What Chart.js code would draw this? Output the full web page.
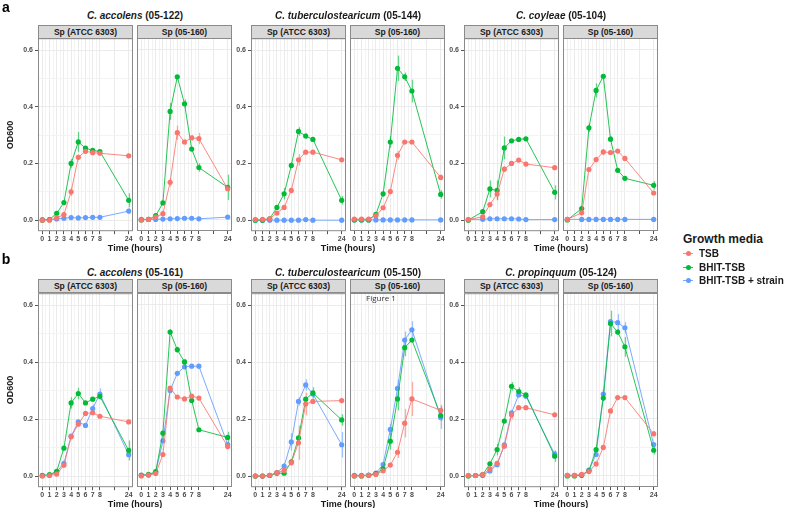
<!DOCTYPE html>
<html>
<head>
<meta charset="utf-8">
<script src="https://cdn.jsdelivr.net/npm/chart.js@4.4.0/dist/chart.umd.min.js"></script>
<style>
  body { margin:0; background:#fff; width:788px; height:508px; overflow:hidden; position:relative;
         font-family:"Liberation Sans", Arial, sans-serif; }
  canvas { position:absolute; }
  .t { position:absolute; white-space:nowrap; transform:translate(-50%,-50%); font-weight:bold; color:#1a1a1a; }
  .strip { position:absolute; box-sizing:border-box; background:#d9d9d9; border:1px solid #8a8a8a;
           font-weight:bold; font-size:8.5px; color:#1a1a1a; text-align:center; }
</style>
</head>
<body>
<script>
// time points (hours) and tick labels
var timeHours = [0, 1, 2, 3, 4, 5, 6, 7, 8, 24];
var xTickLabels = [0, 1, 2, 3, 4, 5, 6, 7, 8, 24];
var yTickLabels = [0, 0.2, 0.4, 0.6];
var seriesNames = ['TSB', 'BHIT-TSB', 'BHIT-TSB + strain'];
var stripNames = ['Sp (ATCC 6303)', 'Sp (05-160)'];
var titlesA = [['C. accolens', '(05-122)'], ['C. tuberculostearicum', '(05-144)'], ['C. coyleae', '(05-104)']];
var titlesB = [['C. accolens', '(05-161)'], ['C. tuberculostearicum', '(05-150)'], ['C. propinquum', '(05-124)']];

// ---- row a ----
// C. accolens (05-122)
var a1_tsb    = [0, 0, 0.008, 0.02, 0.1, 0.222, 0.243, 0.238, 0.236, 0.227];
var a1_bhit   = [0, 0.002, 0.024, 0.062, 0.2, 0.276, 0.254, 0.246, 0.242, 0.07];
var a1_strain = [0.002, 0.002, 0.004, 0.007, 0.009, 0.008, 0.009, 0.01, 0.01, 0.032];
var a1_tsb_err    = [0, 0, 0, 0.005, 0.015, 0.01, 0.005, 0, 0, 0];
var a1_bhit_err   = [0, 0, 0, 0.005, 0.015, 0.035, 0, 0, 0, 0.025];
var a1_strain_err = [0, 0, 0, 0, 0, 0, 0, 0, 0, 0.01];
var a2_tsb    = [0, 0.002, 0.01, 0.022, 0.133, 0.308, 0.275, 0.29, 0.287, 0.11];
var a2_bhit   = [0, 0.002, 0.015, 0.06, 0.383, 0.505, 0.41, 0.25, 0.185, 0.115];
var a2_strain = [0.002, 0.002, 0.002, 0.003, 0.004, 0.005, 0.006, 0.006, 0.004, 0.01];
var a2_tsb_err    = [0, 0, 0, 0, 0.015, 0.025, 0.01, 0.01, 0.02, 0.01];
var a2_bhit_err   = [0, 0, 0, 0, 0.03, 0, 0.015, 0, 0.015, 0.045];
var a2_strain_err = [0, 0, 0, 0, 0, 0, 0, 0, 0, 0];
// C. tuberculostearicum (05-144)
var a3_tsb    = [0.002, 0.003, 0.005, 0.025, 0.045, 0.105, 0.213, 0.24, 0.24, 0.213];
var a3_bhit   = [0, 0, 0.005, 0.045, 0.093, 0.193, 0.313, 0.297, 0.285, 0.07];
var a3_strain = [0, 0, 0, 0, 0, 0, 0, 0.002, 0, 0];
var a3_tsb_err    = [0, 0, 0, 0, 0, 0.01, 0.02, 0, 0, 0];
var a3_bhit_err   = [0, 0, 0, 0, 0.02, 0.01, 0.015, 0.01, 0, 0.015];
var a3_strain_err = [0, 0, 0, 0, 0, 0, 0, 0, 0, 0];
var a4_tsb    = [0.003, 0.003, 0.003, 0.015, 0.043, 0.1, 0.228, 0.275, 0.275, 0.15];
var a4_bhit   = [0, 0, 0, 0.02, 0.092, 0.275, 0.535, 0.505, 0.455, 0.09];
var a4_strain = [0, 0, 0, 0, 0, 0, 0, 0, 0, 0];
var a4_tsb_err    = [0, 0, 0, 0, 0, 0.01, 0.015, 0, 0, 0.01];
var a4_bhit_err   = [0, 0, 0, 0, 0.01, 0.02, 0.045, 0.015, 0.04, 0.015];
var a4_strain_err = [0, 0, 0, 0, 0, 0, 0, 0, 0, 0];
// C. coyleae (05-104), no reading at 1 h
var a5_tsb    = [0.002, null, 0.012, 0.055, 0.092, 0.18, 0.2, 0.212, 0.198, 0.185];
var a5_bhit   = [0, null, 0.03, 0.11, 0.105, 0.255, 0.28, 0.285, 0.287, 0.098];
var a5_strain = [0.002, null, 0.003, 0.005, 0.005, 0.005, 0.005, 0.004, 0.002, 0.002];
var a5_tsb_err    = [0, 0, 0, 0, 0.02, 0.01, 0, 0, 0, 0];
var a5_bhit_err   = [0, 0, 0.005, 0.03, 0.035, 0.04, 0, 0, 0, 0.025];
var a5_strain_err = [0, 0, 0, 0, 0, 0, 0, 0, 0, 0];
var a6_tsb    = [0.002, null, 0.025, 0.178, 0.213, 0.24, 0.238, 0.243, 0.217, 0.095];
var a6_bhit   = [0, null, 0.04, 0.325, 0.457, 0.507, 0.285, 0.175, 0.147, 0.122];
var a6_strain = [0.002, null, 0.002, 0.002, 0.002, 0.002, 0.002, 0.002, 0.002, 0.002];
var a6_tsb_err    = [0, 0, 0, 0, 0.01, 0.01, 0, 0, 0, 0];
var a6_bhit_err   = [0, 0, 0, 0.015, 0.025, 0, 0.01, 0, 0, 0.015];
var a6_strain_err = [0, 0, 0, 0, 0, 0, 0, 0, 0, 0];

// ---- row b ----
// C. accolens (05-161)
var b1_tsb    = [0, 0.002, 0.007, 0.038, 0.138, 0.182, 0.22, 0.222, 0.21, 0.19];
var b1_bhit   = [0.002, 0.005, 0.017, 0.098, 0.257, 0.29, 0.257, 0.27, 0.28, 0.09];
var b1_strain = [0.003, 0.003, 0.015, 0.045, 0.14, 0.19, 0.178, 0.237, 0.288, 0.075];
var b1_tsb_err    = [0, 0, 0, 0, 0, 0, 0, 0, 0, 0];
var b1_bhit_err   = [0, 0, 0, 0, 0.02, 0.02, 0, 0, 0.01, 0.035];
var b1_strain_err = [0, 0, 0, 0, 0, 0, 0, 0.015, 0.02, 0];
var b2_tsb    = [0, 0.003, 0.008, 0.075, 0.308, 0.277, 0.27, 0.28, 0.273, 0.103];
var b2_bhit   = [0.002, 0.005, 0.015, 0.15, 0.505, 0.443, 0.4, 0.265, 0.162, 0.135];
var b2_strain = [0.003, 0.003, 0.012, 0.123, 0.3, 0.36, 0.383, 0.385, 0.385, 0.11];
var b2_tsb_err    = [0, 0, 0, 0, 0, 0, 0, 0, 0, 0];
var b2_bhit_err   = [0, 0, 0, 0.01, 0.01, 0.01, 0.01, 0, 0, 0.02];
var b2_strain_err = [0, 0, 0, 0, 0.01, 0, 0, 0, 0, 0];
// C. tuberculostearicum (05-150)
var b3_tsb    = [0, 0, 0.003, 0.012, 0.02, 0.047, 0.117, 0.253, 0.262, 0.265];
var b3_bhit   = [0, 0, 0.003, 0.01, 0.01, 0.05, 0.134, 0.27, 0.292, 0.197];
var b3_strain = [0, 0, 0.002, 0.012, 0.035, 0.12, 0.262, 0.32, 0.288, 0.11];
var b3_tsb_err    = [0, 0, 0, 0, 0, 0.01, 0.06, 0.04, 0, 0];
var b3_bhit_err   = [0, 0, 0, 0, 0, 0, 0, 0, 0.02, 0.02];
var b3_strain_err = [0, 0, 0, 0, 0.01, 0.03, 0.015, 0.02, 0, 0.045];
var b4_tsb    = [0, 0, 0.002, 0.005, 0.018, 0.038, 0.083, 0.185, 0.27, 0.23];
var b4_bhit   = [0, 0, 0.002, 0.008, 0.025, 0.122, 0.27, 0.45, 0.477, 0.212];
var b4_strain = [0.002, 0.002, 0.003, 0.01, 0.04, 0.163, 0.307, 0.477, 0.513, 0.205];
var b4_tsb_err    = [0, 0, 0, 0, 0, 0, 0.02, 0.05, 0.06, 0.02];
var b4_bhit_err   = [0, 0, 0, 0, 0, 0.03, 0.04, 0.03, 0, 0.02];
var b4_strain_err = [0, 0, 0, 0, 0, 0.02, 0.03, 0.03, 0.03, 0.04];
// C. propinquum (05-124)
var b5_tsb    = [0.002, 0.002, 0.005, 0.025, 0.045, 0.105, 0.215, 0.24, 0.24, 0.215];
var b5_bhit   = [0, 0.002, 0.005, 0.043, 0.093, 0.193, 0.315, 0.297, 0.285, 0.07];
var b5_strain = [0.002, 0.002, 0.002, 0.018, 0.04, 0.11, 0.222, 0.285, 0.28, 0.077];
var b5_tsb_err    = [0, 0, 0, 0, 0, 0, 0.015, 0, 0, 0];
var b5_bhit_err   = [0, 0, 0, 0, 0.02, 0, 0.015, 0.015, 0, 0.02];
var b5_strain_err = [0, 0, 0, 0, 0, 0, 0, 0, 0, 0.01];
var b6_tsb    = [0.002, 0.002, 0.005, 0.015, 0.042, 0.1, 0.228, 0.275, 0.275, 0.148];
var b6_bhit   = [0, 0, 0.002, 0.018, 0.092, 0.273, 0.535, 0.505, 0.453, 0.09];
var b6_strain = [0.002, 0.002, 0.003, 0.02, 0.075, 0.287, 0.542, 0.538, 0.52, 0.11];
var b6_tsb_err    = [0, 0, 0, 0, 0, 0, 0.01, 0, 0, 0.01];
var b6_bhit_err   = [0, 0, 0, 0, 0, 0.01, 0.045, 0.01, 0.035, 0.015];
var b6_strain_err = [0, 0, 0, 0, 0, 0.02, 0, 0.03, 0.02, 0];

var colors = ['#F8766D', '#00BA38', '#619CFF'];
var lineColors = ['rgba(248,118,109,0.85)', 'rgba(0,186,56,0.85)', 'rgba(97,156,255,0.85)'];
var errColors = ['rgba(248,118,109,0.6)', 'rgba(0,186,56,0.6)', 'rgba(97,156,255,0.6)'];

// the plot has a broken time axis: 24 h sits 4 units after 8 h
function axisPos(h) { return h > 8 ? 12 : h; }

var panelLefts = [38, 137, 251, 350, 464, 563];
var panelW = 95;
var rowTops = [38, 293];
var rowHeights = [193, 194];
var tickFont = { family: '"Liberation Sans", Arial, sans-serif', size: 7, weight: 'bold' };

var errBars = {
  id: 'errBars',
  beforeDatasetsDraw: function (chart) {
    var ctx = chart.ctx, xs = chart.scales.x, ys = chart.scales.y;
    ctx.save();
    chart.data.datasets.forEach(function (ds) {
      ds.data.forEach(function (p, j) {
        var e = ds.errs[j];
        if (!e || p.y === null) return;
        var x = Math.round(xs.getPixelForValue(p.x)) + 0.5;
        ctx.strokeStyle = ds.errColor;
        ctx.lineWidth = 1.3;
        ctx.beginPath();
        ctx.moveTo(x, ys.getPixelForValue(p.y - e));
        ctx.lineTo(x, ys.getPixelForValue(p.y + e));
        ctx.stroke();
      });
    });
    ctx.restore();
  }
};

var panelBorder = {
  id: 'panelBorder',
  afterDraw: function (chart) {
    var a = chart.chartArea, ctx = chart.ctx;
    ctx.save();
    ctx.strokeStyle = '#8a8a8a';
    ctx.lineWidth = 1;
    ctx.strokeRect(a.left + 0.5, a.top + 0.5, a.right - a.left - 1, a.bottom - a.top - 1);
    ctx.restore();
  }
};

function makePanel(row, col, series, errs) {
  var showY = (col % 2 === 0);
  var yW = showY ? 24 : 0;
  var xH = 16;
  var h = rowHeights[row];
  var c = document.createElement('canvas');
  c.width = panelW + yW;
  c.height = h + xH;
  document.body.appendChild(c);

  var datasets = [];
  for (var s = 0; s < 3; s++) {
    datasets.push({
      label: seriesNames[s],
      data: timeHours.map(function (t, i) { return { x: axisPos(t), y: series[s][i] }; }),
      errs: errs[s],
      errColor: errColors[s],
      borderColor: lineColors[s],
      borderWidth: 1,
      pointRadius: 2.6,
      pointBorderWidth: 0,
      pointBackgroundColor: colors[s],
      spanGaps: true,
      tension: 0
    });
  }

  var chart = new Chart(c, {
    type: 'line',
    data: { datasets: datasets },
    plugins: [errBars, panelBorder],
    options: {
      animation: false,
      responsive: false,
      maintainAspectRatio: false,
      devicePixelRatio: 1,
      layout: { padding: 0, autoPadding: false },
      plugins: { legend: { display: false }, tooltip: { enabled: false } },
      scales: {
        x: {
          type: 'linear', min: -0.6, max: 12.6,
          afterBuildTicks: function (sc) {
            var t = [];
            xTickLabels.forEach(function (v) { t.push({ value: axisPos(v) }); });
            [0.5, 1.5, 2.5, 3.5, 4.5, 5.5, 6.5, 7.5, 10].forEach(function (v) { t.push({ value: v }); });
            sc.ticks = t;
          },
          afterFit: function (sc) { sc.height = xH; },
          ticks: {
            autoSkip: false, maxRotation: 0, padding: 1, color: '#4d4d4d', font: tickFont,
            callback: function (v) {
              for (var i = 0; i < xTickLabels.length; i++) {
                if (axisPos(xTickLabels[i]) === v) return String(xTickLabels[i]);
              }
              return '';
            }
          },
          grid: {
            tickLength: 3,
            color: function (ctx) { return Number.isInteger(ctx.tick.value) ? '#ebebeb' : '#f3f3f3'; },
            tickColor: function (ctx) { return Number.isInteger(ctx.tick.value) ? '#555' : 'rgba(0,0,0,0)'; }
          },
          border: { display: false }
        },
        y: {
          type: 'linear', min: -0.039, max: 0.642,
          afterBuildTicks: function (sc) {
            sc.ticks = [0, 0.1, 0.2, 0.3, 0.4, 0.5, 0.6].map(function (v) { return { value: v }; });
          },
          afterFit: function (sc) { sc.width = yW; },
          ticks: {
            display: showY, padding: 2, color: '#4d4d4d', font: tickFont,
            callback: function (v) { return yTickLabels.indexOf(v) >= 0 ? v.toFixed(1) : ''; }
          },
          grid: {
            drawTicks: showY, tickLength: 3,
            color: function (ctx) { return yTickLabels.indexOf(ctx.tick.value) >= 0 ? '#ebebeb' : '#f3f3f3'; },
            tickColor: function (ctx) { return yTickLabels.indexOf(ctx.tick.value) >= 0 ? '#555' : 'rgba(0,0,0,0)'; }
          },
          border: { display: false }
        }
      }
    }
  });

  // fit the canvas so the plot area lands exactly on the panel rectangle
  var a = chart.chartArea;
  var extraW = c.width - (a.right - a.left);
  var extraH = c.height - (a.bottom - a.top);
  chart.resize(panelW + extraW, h + extraH);
  a = chart.chartArea;
  c.style.left = (panelLefts[col] - a.left) + 'px';
  c.style.top = (rowTops[row] - a.top) + 'px';
}

function addText(html, x, y, css) {
  var d = document.createElement('div');
  d.className = 't';
  d.innerHTML = html;
  d.style.left = x + 'px';
  d.style.top = y + 'px';
  if (css) d.style.cssText += css;
  document.body.appendChild(d);
  return d;
}

function addStrip(text, left, top) {
  var d = document.createElement('div');
  d.className = 'strip';
  d.textContent = text;
  d.style.left = left + 'px';
  d.style.top = top + 'px';
  d.style.width = panelW + 'px';
  d.style.height = '14px';
  d.style.lineHeight = '12px';
  document.body.appendChild(d);
}

// panels
makePanel(0, 0, [a1_tsb, a1_bhit, a1_strain], [a1_tsb_err, a1_bhit_err, a1_strain_err]);
makePanel(0, 1, [a2_tsb, a2_bhit, a2_strain], [a2_tsb_err, a2_bhit_err, a2_strain_err]);
makePanel(0, 2, [a3_tsb, a3_bhit, a3_strain], [a3_tsb_err, a3_bhit_err, a3_strain_err]);
makePanel(0, 3, [a4_tsb, a4_bhit, a4_strain], [a4_tsb_err, a4_bhit_err, a4_strain_err]);
makePanel(0, 4, [a5_tsb, a5_bhit, a5_strain], [a5_tsb_err, a5_bhit_err, a5_strain_err]);
makePanel(0, 5, [a6_tsb, a6_bhit, a6_strain], [a6_tsb_err, a6_bhit_err, a6_strain_err]);
makePanel(1, 0, [b1_tsb, b1_bhit, b1_strain], [b1_tsb_err, b1_bhit_err, b1_strain_err]);
makePanel(1, 1, [b2_tsb, b2_bhit, b2_strain], [b2_tsb_err, b2_bhit_err, b2_strain_err]);
makePanel(1, 2, [b3_tsb, b3_bhit, b3_strain], [b3_tsb_err, b3_bhit_err, b3_strain_err]);
makePanel(1, 3, [b4_tsb, b4_bhit, b4_strain], [b4_tsb_err, b4_bhit_err, b4_strain_err]);
makePanel(1, 4, [b5_tsb, b5_bhit, b5_strain], [b5_tsb_err, b5_bhit_err, b5_strain_err]);
makePanel(1, 5, [b6_tsb, b6_bhit, b6_strain], [b6_tsb_err, b6_bhit_err, b6_strain_err]);

// strips, titles and axis titles
var stripTops = [25, 279];
var titleYs = [15, 272];
var timeYs = [248, 504];
for (var r = 0; r < 2; r++) {
  var titles = r === 0 ? titlesA : titlesB;
  for (var g = 0; g < 3; g++) {
    addStrip(stripNames[0], panelLefts[g * 2], stripTops[r]);
    addStrip(stripNames[1], panelLefts[g * 2 + 1], stripTops[r]);
    var cx = (panelLefts[g * 2] + panelLefts[g * 2 + 1] + panelW) / 2;
    addText('<i>' + titles[g][0] + '</i> ' + titles[g][1], cx, titleYs[r], 'font-size:10px;');
    addText('Time (hours)', cx, timeYs[r], 'font-size:9px;');
  }
  var midY = rowTops[r] + rowHeights[r] / 2;
  addText('OD600', 10, midY, 'font-size:9px;transform:translate(-50%,-50%) rotate(-90deg);');
}
addText('a', 6, 7, 'font-size:14px;color:#000;');
addText('b', 6, 259, 'font-size:14px;color:#000;');
addText('Figure 1', 381, 297, 'font-size:8px;font-weight:normal;color:#333;font-family:"Open Sans",sans-serif;');

// legend
var lg = document.createElement('div');
lg.style.cssText = 'position:absolute;left:683px;top:232px;font-weight:bold;color:#1a1a1a;';
var html = '<div style="font-size:12px;line-height:14px;margin-bottom:1px;">Growth media</div>';
for (var k = 0; k < seriesNames.length; k++) {
  html += '<div style="position:relative;height:13.5px;line-height:13.5px;font-size:10px;padding-left:16px;">' +
    '<span style="position:absolute;left:0;top:6px;width:10px;height:1px;background:' + lineColors[k] + ';"></span>' +
    '<span style="position:absolute;left:3px;top:4px;width:5px;height:5px;border-radius:50%;background:' + colors[k] + ';"></span>' +
    seriesNames[k] + '</div>';
}
lg.innerHTML = html;
document.body.appendChild(lg);
</script>
</body>
</html>
